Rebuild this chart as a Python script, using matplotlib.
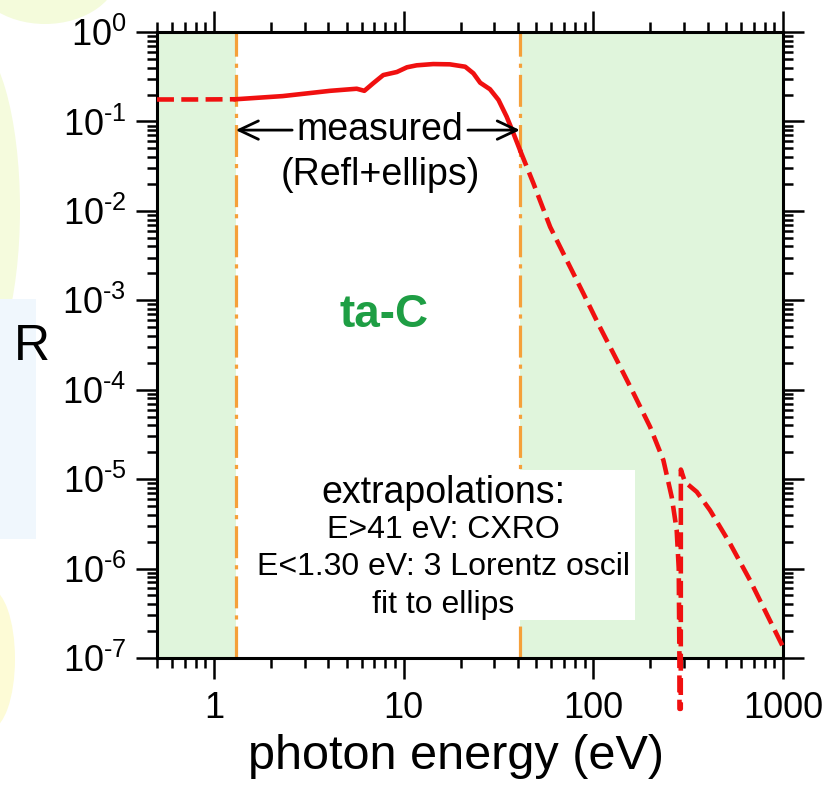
import math

import matplotlib
matplotlib.use("Agg")
import matplotlib.pyplot as plt
from matplotlib import ticker
from matplotlib.patches import Ellipse, Rectangle
from matplotlib.transforms import IdentityTransform

plt.rcParams["font.family"] = ["Liberation Sans", "DejaVu Sans"]
plt.rcParams["mathtext.fontset"] = "custom"
plt.rcParams["mathtext.rm"] = "Liberation Sans"
plt.rcParams["mathtext.it"] = "Liberation Sans:italic"
plt.rcParams["mathtext.bf"] = "Liberation Sans:bold"

# ---- data ----
# low-energy extrapolation (Lorentz oscillator fit)
e_low = [0.5, 0.8, 1.3]
r_low = [0.176, 0.176, 0.177]

# measured range (reflectance + ellipsometry)
e_meas = [1.3, 2.3, 4.1, 5.65, 6.2, 6.9, 7.8, 9.2, 10.4, 11.7, 14.3, 17.5,
          21.1, 23.3, 25.3, 28.5, 31.6, 34.9, 37.9, 41.0]
r_meas = [0.177, 0.192, 0.22, 0.232, 0.22, 0.267, 0.33, 0.357, 0.403, 0.424,
          0.438, 0.435, 0.409, 0.345, 0.271, 0.229, 0.174, 0.113, 0.0736, 0.048]

# high-energy extrapolation (CXRO), incl. carbon K edge
e_high = [41.0, 48.3, 59.2, 72.4, 88.6, 108, 133, 163, 199, 234, 259, 275,
          282, 284.3, 284.5, 289, 289.3, 304, 351, 412, 526, 670, 855, 1000]
r_high = [0.048, 0.0203, 6.6e-3, 2.8e-3, 1.19e-3, 5.06e-4, 2.14e-4, 9.1e-5,
          3.85e-5, 1.63e-5, 6.3e-6, 2.7e-6, 1.0e-6, 1.0e-7, 2.7e-8, 2.7e-8,
          1.28e-5, 9.3e-6, 7.2e-6, 4.5e-6, 1.9e-6, 7.4e-7, 2.6e-7, 1.33e-7]

e_limits = [1.3, 41.0]
x_range = (0.5, 1000)
y_range = (1e-7, 1)
x_ticks = [1, 10, 100, 1000]
x_ticklabels = ["1", "10", "100", "1000"]
box_lines = ["E>41 eV: CXRO", "E<1.30 eV: 3 Lorentz oscil", "fit to ellips"]

red = "#f01010"
orange = "#f5a03a"
green_fill = "#e0f5dc"


def pow10_label(v, pos):
    # short hyphen in the exponent, like the original
    exp = "%d" % round(math.log10(v))
    return r"$\mathregular{10^{%s}}$" % exp.replace("-", "\u2010")


fig = plt.figure(figsize=(8.31, 7.89), dpi=100)

# faint slide background shapes on the left edge
for p in [
    Ellipse((45, 820), 150, 110, color="#f4fbdb", lw=0),
    Ellipse((-30, 580), 100, 340, color="#f5fbdd", lw=0),
    Rectangle((0, 250), 36, 240, color="#f0f7fd", lw=0),
    Ellipse((-10, 130), 50, 140, color="#fdfbd6", lw=0),
]:
    p.set_transform(IdentityTransform())
    p.set_zorder(-5)
    fig.patches.append(p)

ax = fig.add_axes([157 / 831, 1 - 658 / 789, 626 / 831, 626 / 789])
ax.set_xscale("log")
ax.set_yscale("log")
ax.set_xlim(*x_range)
ax.set_ylim(*y_range)

# shaded extrapolation regions
ax.axvspan(x_range[0], e_limits[0], color=green_fill, lw=0, zorder=0)
ax.axvspan(e_limits[1], x_range[1], color=green_fill, lw=0, zorder=0)

for e in e_limits:
    ax.axvline(e, color=orange, lw=2.3, dashes=(10, 2.2, 1.3, 2.2), zorder=1)

# text box
ax.add_patch(Rectangle((0.236, 0.061), 0.528, 0.239, transform=ax.transAxes,
                       facecolor="white", edgecolor="none", zorder=1.5))

ax.plot(e_low, r_low, color=red, lw=3.3, ls="--", zorder=3)
ax.plot(e_meas, r_meas, color=red, lw=3.3, ls="-", zorder=3)
ax.plot(e_high, r_high, color=red, lw=3.3, ls="--", zorder=3, clip_on=False)

# measured arrows
arrow_kw = dict(arrowstyle="->,head_length=0.7,head_width=0.33", lw=2,
                color="black", shrinkA=0, shrinkB=0, mutation_scale=20)
ax.annotate("", xy=(e_limits[0], 0.08), xytext=(2.58, 0.08), arrowprops=arrow_kw)
ax.annotate("", xy=(e_limits[1], 0.08), xytext=(21.8, 0.08), arrowprops=arrow_kw)

ax.text(0.356, 0.843, "measured", transform=ax.transAxes, fontsize=27,
        ha="center", va="center")
ax.text(0.356, 0.772, "(Refl+ellips)", transform=ax.transAxes, fontsize=27,
        ha="center", va="center")
ax.text(0.363, 0.548, "ta-C", transform=ax.transAxes, fontsize=33,
        fontweight="bold", color="#1e9e44", ha="center", va="center")

ax.text(0.457, 0.264, "extrapolations:", transform=ax.transAxes, fontsize=27,
        ha="center", va="center", zorder=2)
for y, s in zip([0.204, 0.145, 0.085], box_lines):
    ax.text(0.457, y, s, transform=ax.transAxes, fontsize=23,
            ha="center", va="center", zorder=2)

# axes styling
for sp in ax.spines.values():
    sp.set_linewidth(2.2)
ax.tick_params(which="both", direction="out", top=True, right=True, width=1.8)
ax.tick_params(which="major", length=15, labelsize=26)
ax.tick_params(axis="y", which="major", pad=7)
ax.tick_params(axis="x", which="major", pad=9)
ax.tick_params(which="minor", length=7.5)
ax.xaxis.set_major_locator(ticker.FixedLocator(x_ticks))
ax.xaxis.set_major_formatter(ticker.FixedFormatter(x_ticklabels))
ax.xaxis.set_minor_locator(ticker.LogLocator(base=10, subs=range(2, 10), numticks=20))
ax.xaxis.set_minor_formatter(ticker.NullFormatter())
ax.yaxis.set_major_locator(ticker.LogLocator(base=10, numticks=20))
ax.yaxis.set_major_formatter(ticker.FuncFormatter(pow10_label))
ax.yaxis.set_minor_locator(ticker.LogLocator(base=10, subs=range(2, 10), numticks=20))
ax.yaxis.set_minor_formatter(ticker.NullFormatter())

ax.set_xlabel("photon energy (eV)", fontsize=35)
ax.xaxis.set_label_coords(0.478, -0.158)
ax.xaxis.label.set_va("center")
ax.set_ylabel("R", fontsize=36, rotation=0, va="center", ha="center")
ax.yaxis.set_label_coords(-0.2, 0.497)

fig.savefig("out.png", dpi=100)
